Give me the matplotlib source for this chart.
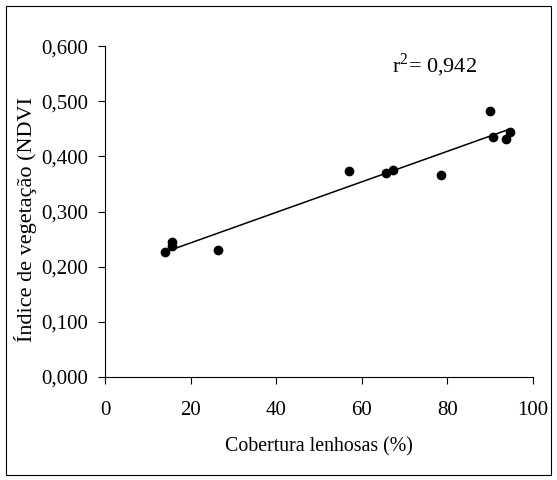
import numpy as np
import matplotlib.pyplot as plt
from matplotlib.patches import Rectangle

# Cobertura lenhosas (%) vs NDVI
cobertura = [14.0, 15.6, 15.6, 26.5, 57.1, 65.7, 67.2, 78.4, 90.0, 90.7, 93.6, 94.6]
ndvi = [0.226, 0.244, 0.237, 0.230, 0.373, 0.370, 0.376, 0.367, 0.482, 0.435, 0.432, 0.444]
x_ticks = [0, 20, 40, 60, 80, 100]
y_ticks = [0.0, 0.1, 0.2, 0.3, 0.4, 0.5, 0.6]
y_labels = ["0,000", "0,100", "0,200", "0,300", "0,400", "0,500", "0,600"]

plt.rcParams['font.family'] = ['Liberation Serif', 'DejaVu Serif']
plt.rcParams['mathtext.fontset'] = 'custom'
plt.rcParams['mathtext.rm'] = 'Liberation Serif'

fig = plt.figure(figsize=(5.57, 4.8), dpi=100)
ax = fig.add_axes([0.1885, 0.2146, 0.7685, 0.6894])

# frame around the whole chart
fig.patches.append(Rectangle((0.011, 0.011), 0.978, 0.976, transform=fig.transFigure,
                             fill=False, edgecolor='black', linewidth=0.8))

ax.scatter(cobertura, ndvi, s=36, color='black', zorder=3)

# linear trend
a, b = np.polyfit(cobertura, ndvi, 1)
xs = np.array([min(cobertura), max(cobertura)])
ax.plot(xs, a * xs + b, color='black', linewidth=1.1)

ax.set_xlim(0, 100)
ax.set_ylim(0, 0.6)
ax.set_xticks(x_ticks)
ax.set_yticks(y_ticks)
ax.set_yticklabels(y_labels)
ax.tick_params(direction='out', length=5, width=0.8, labelsize=15, pad=7)
ax.tick_params(axis='x', pad=12)
for side in ['top', 'right']:
    ax.spines[side].set_visible(False)
for side in ['left', 'bottom']:
    ax.spines[side].set_linewidth(0.8)

ax.set_xlabel("Cobertura lenhosas (%)", fontsize=14.3, labelpad=13)
ax.set_ylabel("Índice de vegetação (NDVI", fontsize=16)
ax.yaxis.set_label_coords(-0.16, 0.475)

ax.text(67, 0.553, r"r$^2$= 0,942", fontsize=16)

fig.savefig("out.png", dpi=100)
